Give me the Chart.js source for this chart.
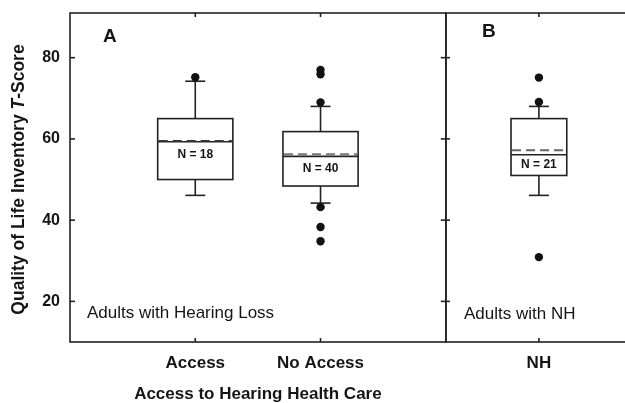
<!DOCTYPE html>
<html>
<head>
<meta charset="utf-8">
<title>Quality of Life Inventory T-Score</title>
<script src="https://cdn.jsdelivr.net/npm/chart.js@4/dist/chart.umd.min.js"></script>
<style>
  html, body { margin: 0; padding: 0; background: #fff; overflow: hidden; width: 625px; height: 403px; }
  #chartA { position: absolute; left: 0; top: 0; }
  #chartB { position: absolute; left: 436px; top: 0; }
</style>
</head>
<body>
<canvas id="chartA" width="450" height="403"></canvas>
<canvas id="chartB" width="200" height="403"></canvas>
<script>
// ---- Panel A: adults with hearing loss ----
const groupsA    = ['Access', 'No Access'];
const positionsA = [1, 2];
const q1A        = [50.0, 48.4];
const medianA    = [59.3, 55.7];
const meanA      = [59.5, 56.2];
const q3A        = [65.0, 61.8];
const whiskLoA   = [46.1, 44.2];
const whiskHiA   = [74.2, 68.0];
const countA     = [18, 40];
const outliersAccess   = [75.2];
const outliersNoAccess = [77.0, 75.9, 69.0, 43.2, 38.3, 34.8];

// ---- Panel B: adults with normal hearing ----
const groupsB    = ['NH'];
const positionsB = [1];
const q1B        = [51.0];
const medianB    = [56.1];
const meanB      = [57.2];
const q3B        = [65.0];
const whiskLoB   = [46.1];
const whiskHiB   = [68.0];
const countB     = [21];
const outliersNH = [75.1, 69.1, 30.9];

// ---- Shared value axis ----
const yTickValues = [20, 40, 60, 80];
const yMin = 10, yMax = 91;

const INK = '#151515';
const LINE = '#222';
const FONT = "'Liberation Sans', Arial, Helvetica, sans-serif";
Chart.defaults.font.family = FONT;
Chart.defaults.color = INK;

function line(ctx, x1, y1, x2, y2) {
  ctx.beginPath(); ctx.moveTo(x1, y1); ctx.lineTo(x2, y2); ctx.stroke();
}

// Box-and-whisker drawing, frame, inward ticks and panel captions
const boxPlotPlugin = {
  id: 'boxPlot',
  beforeDatasetsDraw(chart, args, o) {
    const { ctx, scales: { x, y } } = chart;
    ctx.save();
    o.positions.forEach((p, i) => {
      const xc = x.getPixelForValue(p);
      const xl = x.getPixelForValue(p - o.halfWidth);
      const xr = x.getPixelForValue(p + o.halfWidth);
      const yQ1 = y.getPixelForValue(o.q1[i]);
      const yQ3 = y.getPixelForValue(o.q3[i]);
      const yMed = y.getPixelForValue(o.median[i]);
      const yMean = y.getPixelForValue(o.mean[i]);
      const yLo = y.getPixelForValue(o.lo[i]);
      const yHi = y.getPixelForValue(o.hi[i]);
      ctx.strokeStyle = LINE;
      ctx.lineWidth = 1.6;
      ctx.setLineDash([]);
      // whiskers with caps
      line(ctx, xc, yQ3, xc, yHi);
      line(ctx, xc - o.cap, yHi, xc + o.cap, yHi);
      line(ctx, xc, yQ1, xc, yLo);
      line(ctx, xc - o.cap, yLo, xc + o.cap, yLo);
      // box
      ctx.fillStyle = '#fff';
      ctx.fillRect(xl, yQ3, xr - xl, yQ1 - yQ3);
      ctx.strokeRect(xl, yQ3, xr - xl, yQ1 - yQ3);
      // median (solid) and mean (dashed)
      line(ctx, xl, yMed, xr, yMed);
      ctx.strokeStyle = o.meanColor[i];
      ctx.lineWidth = 2;
      ctx.setLineDash([9, 5]);
      line(ctx, xl + 1, yMean, xr - 1, yMean);
      ctx.setLineDash([]);
      // sample size, set just under the mean line
      ctx.fillStyle = INK;
      ctx.font = 'bold 12px ' + FONT;
      ctx.textAlign = 'center';
      ctx.textBaseline = 'middle';
      ctx.fillText('N = ' + o.n[i], xc, yMean + 14);
    });
    ctx.restore();
  },
  afterDraw(chart, args, o) {
    const { ctx, chartArea: ca, scales: { x, y } } = chart;
    ctx.save();
    ctx.strokeStyle = LINE;
    ctx.lineWidth = 1.6;
    ctx.strokeRect(ca.left, ca.top, ca.right - ca.left, ca.bottom - ca.top);
    // category ticks on top and bottom edges, pointing inward
    x.ticks.forEach(t => {
      const px = x.getPixelForValue(t.value);
      line(ctx, px, ca.top, px, ca.top + 4);
      line(ctx, px, ca.bottom, px, ca.bottom - 4);
    });
    // value ticks
    yTickValues.forEach(v => {
      const py = y.getPixelForValue(v);
      if (o.leftTicks) line(ctx, ca.left, py, ca.left + 5, py);
      if (o.rightTicks) line(ctx, ca.right - 5, py, ca.right + 5, py);
    });
    // panel letter and caption
    ctx.fillStyle = INK;
    ctx.textAlign = 'left';
    ctx.textBaseline = 'middle';
    ctx.font = 'bold 19px ' + FONT;
    ctx.fillText(o.letter, ca.left + o.letterDx, ca.top + o.letterDy);
    ctx.font = '17px ' + FONT;
    ctx.fillText(o.caption, ca.left + o.captionDx, ca.bottom - o.captionDy);
    // value-axis title with italic T
    if (o.yTitle) {
      const size = '17.5px ';
      const parts = [
        ['Quality of Life Inventory ', 'bold ' + size + FONT],
        ['T', 'italic bold ' + size + FONT],
        ['-Score', 'bold ' + size + FONT]
      ];
      let total = 0;
      parts.forEach(([t, f]) => { ctx.font = f; total += ctx.measureText(t).width; });
      ctx.translate(19, (ca.top + ca.bottom) / 2 + 2);
      ctx.rotate(-Math.PI / 2);
      let cx = -total / 2;
      parts.forEach(([t, f]) => {
        ctx.font = f;
        ctx.fillText(t, cx, 0);
        cx += ctx.measureText(t).width;
      });
    }
    ctx.restore();
  }
};

function pointsFor(pos, values) {
  return values.map(v => ({ x: pos, y: v }));
}

const dotStyle = {
  pointRadius: 4.2,
  pointBackgroundColor: '#111',
  pointBorderWidth: 0,
  showLine: false
};

// Panel A
new Chart(document.getElementById('chartA'), {
  type: 'scatter',
  data: {
    datasets: [{
      data: pointsFor(positionsA[0], outliersAccess).concat(pointsFor(positionsA[1], outliersNoAccess)),
      ...dotStyle
    }]
  },
  options: {
    responsive: false,
    animation: false,
    layout: { padding: { top: 13, right: 4, left: 0, bottom: 0 } },
    plugins: {
      legend: { display: false },
      tooltip: { enabled: false },
      boxPlot: {
        positions: positionsA, q1: q1A, median: medianA, mean: meanA, q3: q3A,
        lo: whiskLoA, hi: whiskHiA, n: countA,
        meanColor: ['#333', '#777'],
        halfWidth: 0.3, cap: 10,
        leftTicks: true, rightTicks: true,
        letter: 'A', letterDx: 33, letterDy: 23.5,
        caption: 'Adults with Hearing Loss', captionDx: 17, captionDy: 29,
        yTitle: true
      }
    },
    scales: {
      x: {
        type: 'linear', min: 0, max: 3,
        afterBuildTicks: s => { s.ticks = positionsA.map(v => ({ value: v })); },
        afterFit: s => { s.height = 61; s.paddingLeft = 0; s.paddingRight = 0; },
        ticks: {
          callback: v => groupsA[positionsA.indexOf(v)],
          font: { size: 17, weight: 'bold' }, color: INK,
          padding: 11, maxRotation: 0, autoSkip: false
        },
        grid: { display: false, drawTicks: false },
        border: { display: false },
        title: {
          display: true, text: 'Access to Hearing Health Care',
          font: { size: 17, weight: 'bold', lineHeight: 1 }, color: INK, padding: 0
        }
      },
      y: {
        min: yMin, max: yMax,
        afterBuildTicks: s => { s.ticks = yTickValues.map(v => ({ value: v })); },
        afterFit: s => { s.width = 70; s.paddingTop = 0; s.paddingBottom = 0; },
        ticks: { font: { size: 16, weight: 'bold' }, color: INK, padding: 10 },
        grid: { display: false, drawTicks: false },
        border: { display: false }
      }
    }
  },
  plugins: [boxPlotPlugin]
});

// Panel B
new Chart(document.getElementById('chartB'), {
  type: 'scatter',
  data: {
    datasets: [{ data: pointsFor(positionsB[0], outliersNH), ...dotStyle }]
  },
  options: {
    responsive: false,
    animation: false,
    layout: { padding: { top: 13, right: 3, left: 10, bottom: 0 } },
    plugins: {
      legend: { display: false },
      tooltip: { enabled: false },
      boxPlot: {
        positions: positionsB, q1: q1B, median: medianB, mean: meanB, q3: q3B,
        lo: whiskLoB, hi: whiskHiB, n: countB,
        meanColor: ['#666'],
        halfWidth: 0.3, cap: 10,
        leftTicks: false, rightTicks: false,
        letter: 'B', letterDx: 36, letterDy: 18.5,
        caption: 'Adults with NH', captionDx: 18, captionDy: 28,
        yTitle: false
      }
    },
    scales: {
      x: {
        type: 'linear', min: 0, max: 2,
        afterBuildTicks: s => { s.ticks = positionsB.map(v => ({ value: v })); },
        afterFit: s => { s.height = 61; s.paddingLeft = 0; s.paddingRight = 0; },
        ticks: {
          callback: v => groupsB[positionsB.indexOf(v)],
          font: { size: 17, weight: 'bold' }, color: INK,
          padding: 11, maxRotation: 0, autoSkip: false
        },
        grid: { display: false, drawTicks: false },
        border: { display: false }
      },
      y: {
        display: false,
        min: yMin, max: yMax,
        afterBuildTicks: s => { s.ticks = yTickValues.map(v => ({ value: v })); }
      }
    }
  },
  plugins: [boxPlotPlugin]
});
</script>
</body>
</html>
